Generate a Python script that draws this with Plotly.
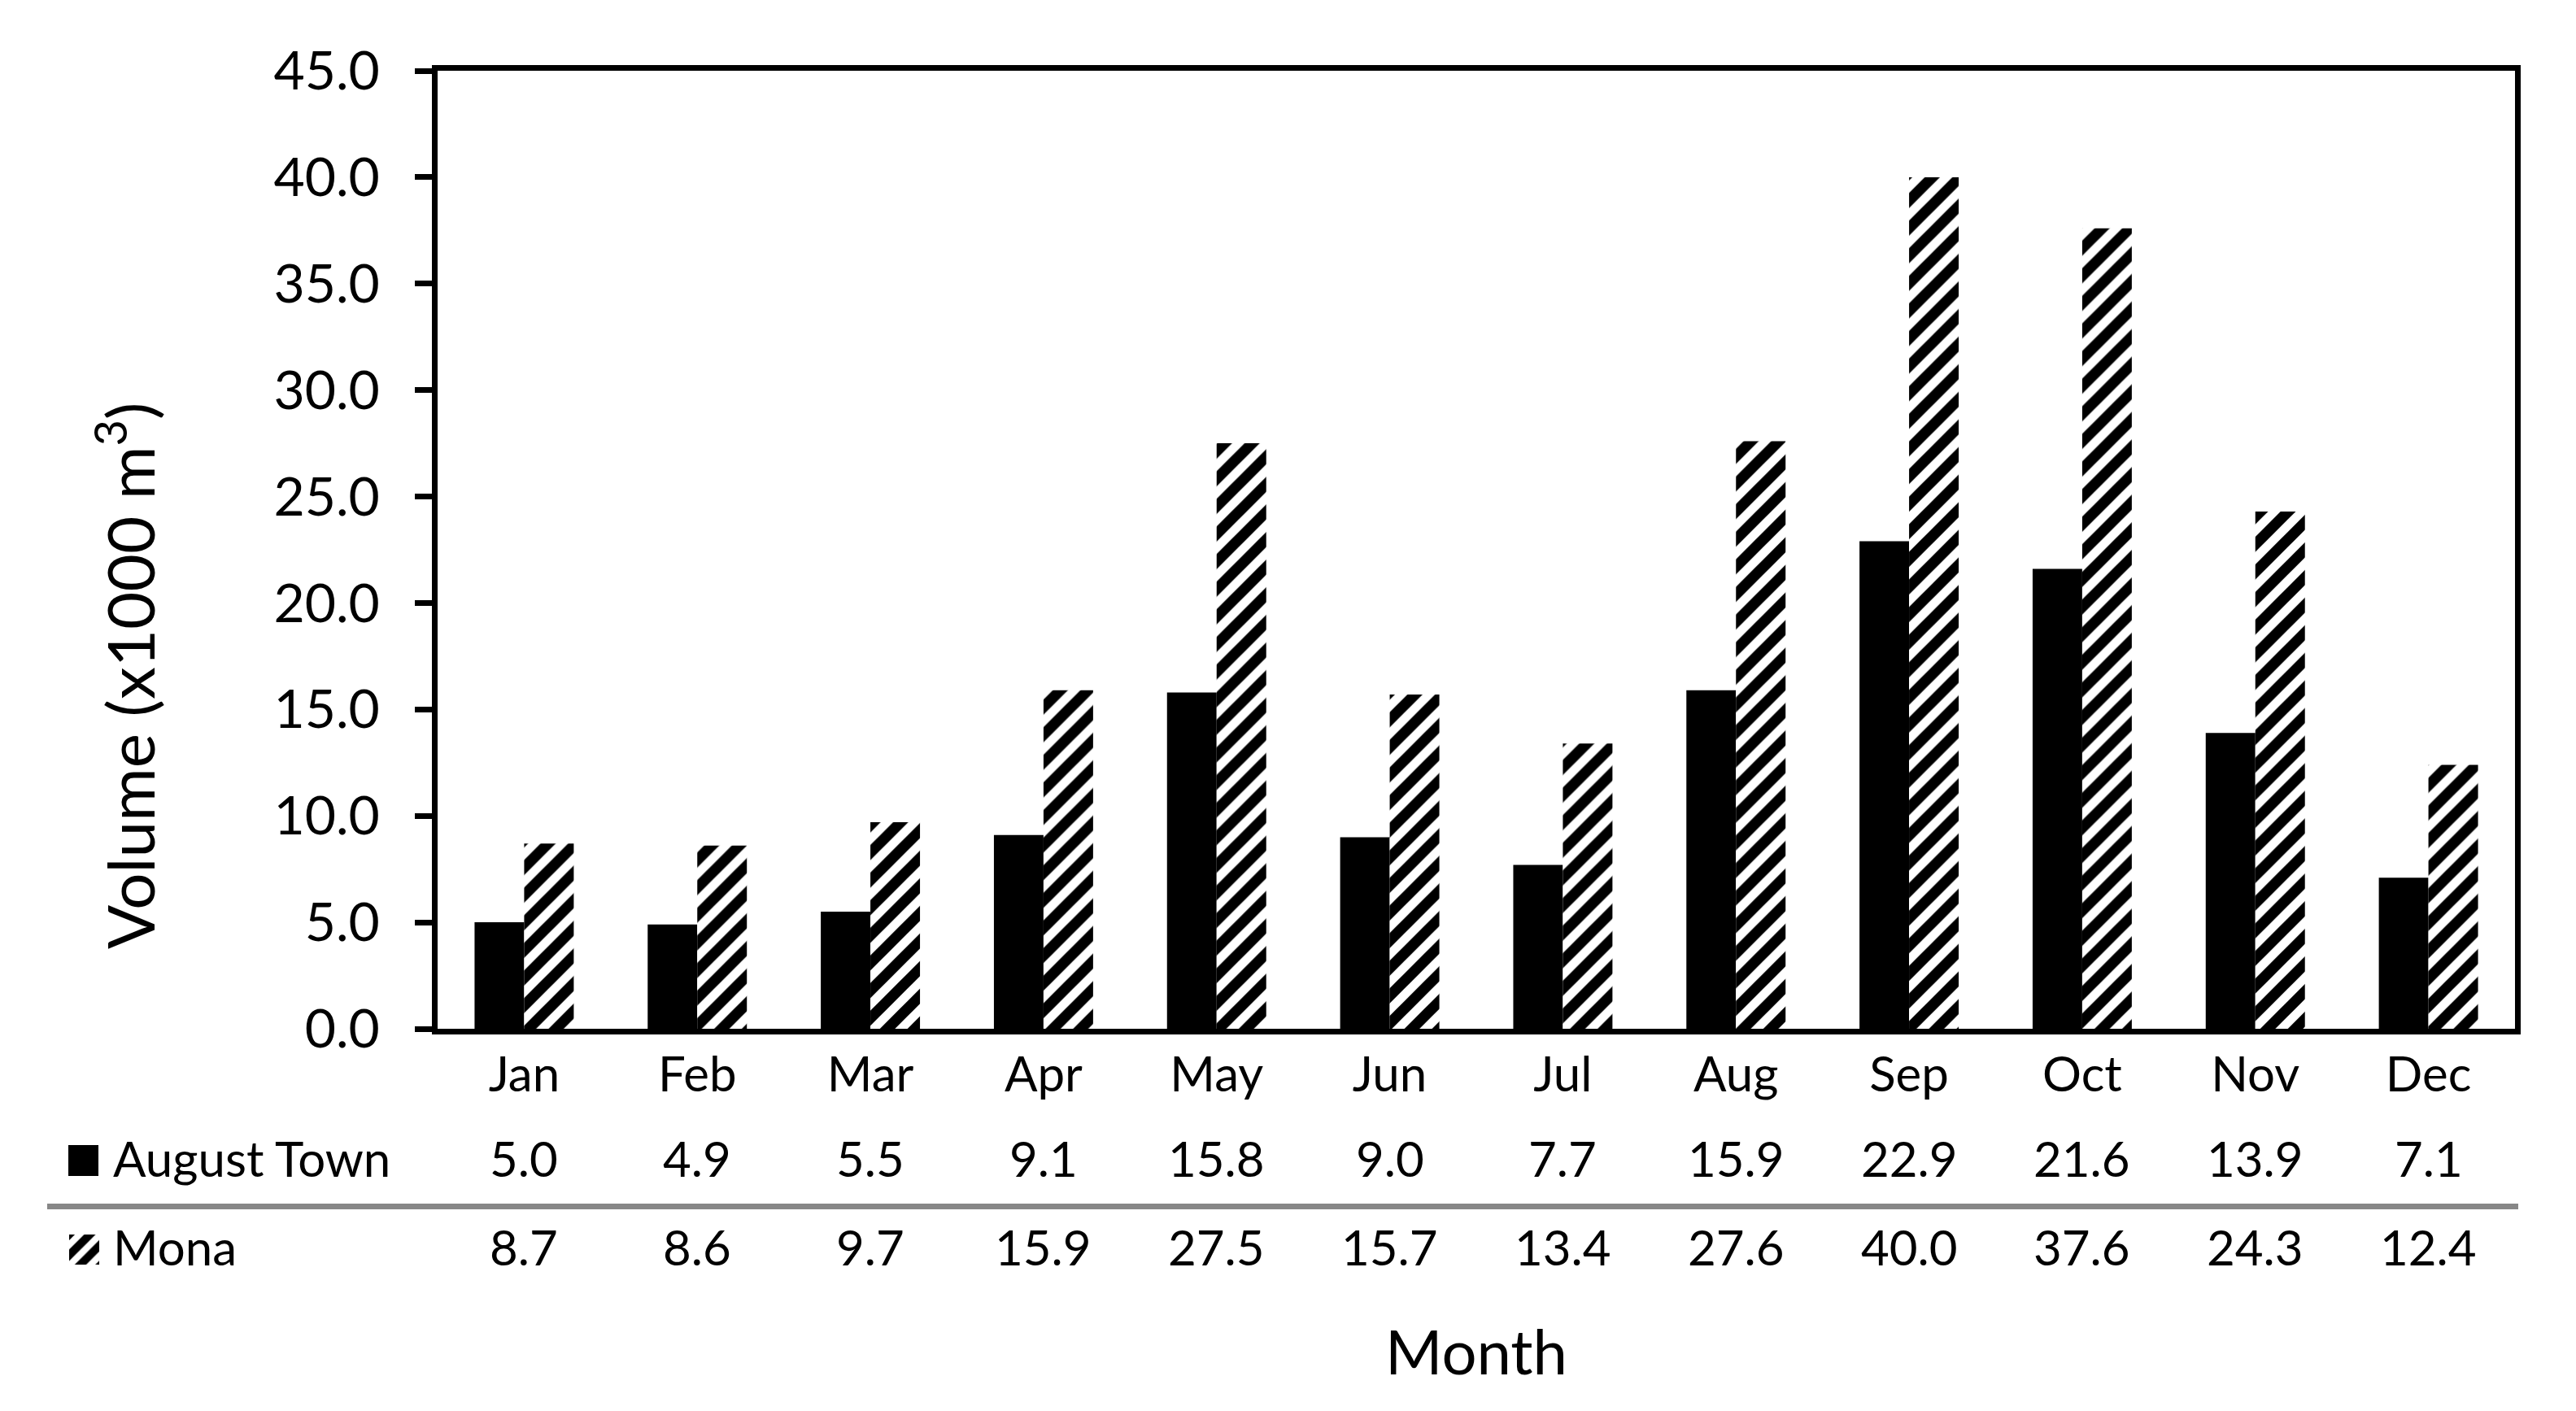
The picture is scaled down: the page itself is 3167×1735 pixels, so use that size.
import plotly.graph_objects as go

W, H = 3167, 1735
OFF = 8  # default page body margin in the browser shifts the figure by this many px

months = ["Jan", "Feb", "Mar", "Apr", "May", "Jun", "Jul", "Aug", "Sep", "Oct", "Nov", "Dec"]
august_town = [5.0, 4.9, 5.5, 9.1, 15.8, 9.0, 7.7, 15.9, 22.9, 21.6, 13.9, 7.1]
mona = [8.7, 8.6, 9.7, 15.9, 27.5, 15.7, 13.4, 27.6, 40.0, 37.6, 24.3, 12.4]
series_names = ["August Town", "Mona"]
y_ticks = [0, 5, 10, 15, 20, 25, 30, 35, 40, 45]
legend_key = [1]

FONT = "Lato"

def px_x(x):
    return (x - OFF) / W

def px_y(y):
    return (H - (y - OFF)) / H

hatch = dict(shape="/", fgcolor="black", bgcolor="white", fgopacity=1, size=24, solidity=0.55)

fig = go.Figure()
fig.add_trace(go.Bar(x=months, y=august_town, name=series_names[0],
                     marker=dict(color="black", line=dict(width=0)), showlegend=False))
fig.add_trace(go.Bar(x=months, y=mona, name=series_names[1],
                     marker=dict(color="white", pattern=hatch, line=dict(width=0)), showlegend=False))

# legend swatches in the data table
fig.add_trace(go.Bar(x=[0], y=legend_key, width=1, xaxis="x2", yaxis="y2", showlegend=False,
                     marker=dict(color="black", line=dict(width=0)), hoverinfo="skip"))
fig.add_trace(go.Bar(x=[0], y=legend_key, width=1, xaxis="x3", yaxis="y3", showlegend=False,
                     marker=dict(color="white", line=dict(width=0),
                                 pattern=dict(shape="/", fgcolor="black", bgcolor="white", fgopacity=1,
                                              size=18, solidity=0.55)),
                     hoverinfo="skip"))

hidden = dict(visible=False, showgrid=False, zeroline=False, fixedrange=True, automargin=False)

annotations = []
row_y = [px_y(1424), px_y(1533)]
for ri, vals in enumerate([august_town, mona]):
    annotations.append(dict(x=px_x(137), y=row_y[ri], xref="paper", yref="paper",
                            text=series_names[ri], showarrow=False, xanchor="left", yanchor="middle",
                            font=dict(family=FONT, size=60, color="black")))
    for m, v in zip(months, vals):
        annotations.append(dict(x=m, y=row_y[ri], xref="x", yref="paper", text=f"{v:.1f}",
                                showarrow=False, xanchor="center", yanchor="middle",
                                font=dict(family=FONT, size=60, color="black")))

annotations.append(dict(x=0.5 * (px_x(538) + px_x(3092)), y=px_y(1660), xref="paper", yref="paper",
                        text="Month", showarrow=False, xanchor="center", yanchor="middle",
                        font=dict(family=FONT, size=76, color="black")))
annotations.append(dict(x=px_x(154), y=px_y(831), xref="paper", yref="paper",
                        text="Volume (x1000 m<sup>3</sup>)", textangle=-90, showarrow=False,
                        xanchor="center", yanchor="middle",
                        font=dict(family=FONT, size=80, color="black")))

fig.update_layout(
    width=W, height=H,
    margin=dict(l=0, r=0, t=0, b=0, autoexpand=False),
    paper_bgcolor="white", plot_bgcolor="white",
    barmode="group", bargap=0.427, bargroupgap=0,
    showlegend=False,
    font=dict(family=FONT, color="black"),
    xaxis=dict(domain=[px_x(538), px_x(3092)], anchor="y", automargin=False,
               showline=True, linecolor="black", linewidth=7, mirror=True,
               ticks="", showgrid=False, zeroline=False,
               tickfont=dict(family=FONT, size=60, color="black"), ticklabelstandoff=-2),
    yaxis=dict(domain=[px_y(1265), px_y(87)], anchor="x", range=[0, 45], automargin=False,
               tickvals=y_ticks, ticktext=[f"{t:.1f}" for t in y_ticks],
               showline=True, linecolor="black", linewidth=7, mirror=True,
               ticks="outside", ticklen=21, tickwidth=7, tickcolor="black",
               showgrid=False, zeroline=False,
               tickfont=dict(family=FONT, size=66, color="black"), ticklabelstandoff=30),
    xaxis2=dict(domain=[px_x(84), px_x(121)], anchor="y2", range=[-0.5, 0.5], **hidden),
    yaxis2=dict(domain=[px_y(1446), px_y(1408)], anchor="x2", range=[0, 1], **hidden),
    xaxis3=dict(domain=[px_x(85), px_x(122)], anchor="y3", range=[-0.5, 0.5], **hidden),
    yaxis3=dict(domain=[px_y(1555), px_y(1518)], anchor="x3", range=[0, 1], **hidden),
    annotations=annotations,
    shapes=[dict(type="line", xref="paper", yref="paper",
                 x0=px_x(58), x1=px_x(3096), y0=px_y(1483.5), y1=px_y(1483.5),
                 line=dict(color="#878787", width=7))],
)

fig.write_html("out.html")
